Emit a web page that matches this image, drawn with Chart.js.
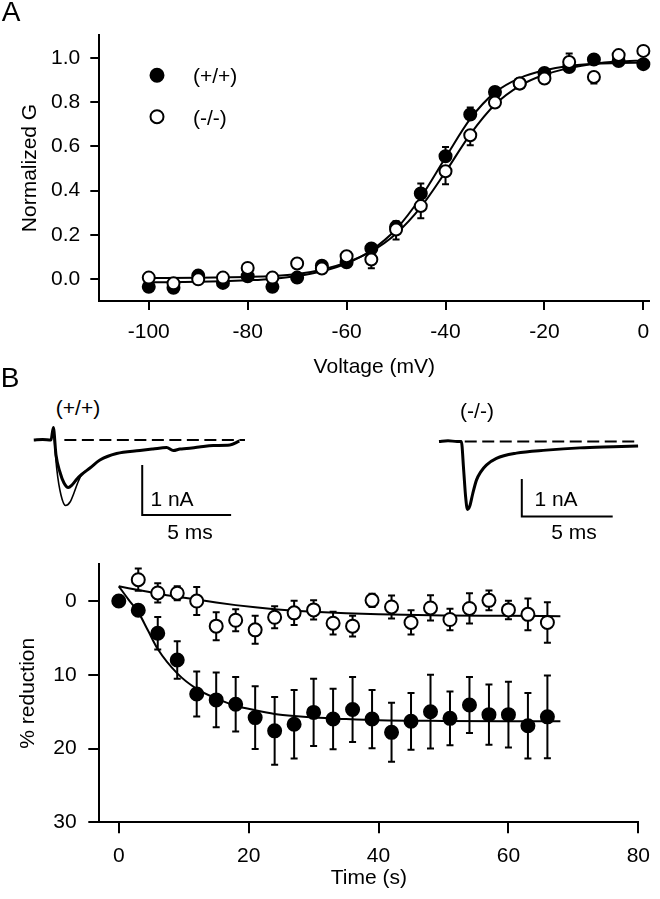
<!DOCTYPE html>
<html>
<head>
<meta charset="utf-8">
<script src="https://cdn.jsdelivr.net/npm/chart.js@4.4.1/dist/chart.umd.min.js"></script>
<style>
  body { margin: 0; background: #fff; }
  #page { position: relative; width: 660px; height: 899px; overflow: hidden; background: #fff; }
  canvas { position: absolute; }
  .lbl {
    position: absolute; white-space: nowrap; line-height: 1;
    font-family: "Liberation Sans", Arial, sans-serif; font-size: 21px; color: #000;
    transform: translate(-50%, -50%);
  }
  .left { transform: translate(0, -50%); }
  .panel { font-size: 28px; }
</style>
</head>
<body>
<div id="page">
  <canvas id="chartA" width="660" height="380" style="left:0;top:0"></canvas>
  <canvas id="traceWT" width="240" height="100" style="left:16px;top:420px"></canvas>
  <canvas id="traceKO" width="234" height="150" style="left:421px;top:404px"></canvas>
  <canvas id="chartB" width="660" height="359" style="left:0;top:540px"></canvas>

  <div class="lbl panel" style="left:11px;top:12px">A</div>
  <div class="lbl panel" style="left:10px;top:378px">B</div>
  <div class="lbl left" style="left:193px;top:75px">(+/+)</div>
  <div class="lbl left" style="left:193px;top:117px">(-/-)</div>
  <div class="lbl" style="left:78px;top:407px">(+/+)</div>
  <div class="lbl" style="left:477px;top:410px">(-/-)</div>
  <div class="lbl" style="left:172px;top:498px">1 nA</div>
  <div class="lbl" style="left:190px;top:531px">5 ms</div>
  <div class="lbl" style="left:556px;top:498px">1 nA</div>
  <div class="lbl" style="left:574px;top:531px">5 ms</div>
</div>
<script>
// ---- panel A : normalized conductance vs voltage ----
const voltages = [-100, -95, -90, -85, -80, -75, -70, -65, -60, -55, -50, -45, -40, -35, -30, -25, -20, -15, -10, -5, 0];
const gWT = [-0.036, -0.04, 0.015, -0.018, 0.012, -0.036, 0.006, 0.06, 0.075, 0.138, 0.236, 0.387, 0.556, 0.745, 0.847, 0.885, 0.933, 0.96, 0.994, 0.987, 0.973];
const gKO = [0.006, -0.02, -0.002, 0.006, 0.05, 0.006, 0.07, 0.047, 0.103, 0.088, 0.224, 0.33, 0.488, 0.651, 0.799, 0.885, 0.908, 0.983, 0.915, 1.014, 1.033];
// signed error bars: + drawn upward, - drawn downward
const errWT_A = [0.01, 0.01, 0.01, 0.01, 0.01, 0.01, 0.02, 0.01, 0.01, 0.02, 0.025, 0.045, 0.042, 0.032, 0.02, 0.01, 0.01, 0.01, 0.01, 0.01, 0.01];
const errKO_A = [-0.01, -0.01, -0.01, -0.01, -0.01, -0.01, -0.01, -0.01, -0.01, -0.04, -0.045, -0.055, -0.059, -0.045, -0.02, -0.01, -0.01, 0.038, -0.03, -0.01, -0.01];
// Boltzmann fits
const fitV = [-100, -90, -80, -75, -70, -65, -60, -55, -50, -45, -40, -35, -30, -25, -20, -15, -10, -5, 0];
const fitWT_A = [-0.015, -0.013, -0.006, 0.0, 0.013, 0.035, 0.07, 0.13, 0.225, 0.37, 0.55, 0.725, 0.845, 0.91, 0.945, 0.965, 0.975, 0.978, 0.98];
const fitKO_A = [0.004, 0.005, 0.009, 0.013, 0.022, 0.042, 0.075, 0.125, 0.205, 0.325, 0.485, 0.655, 0.79, 0.875, 0.925, 0.955, 0.975, 0.985, 0.99];
const xTicksA = [-100, -80, -60, -40, -20, 0];
const yTicksA = [0, 0.2, 0.4, 0.6, 0.8, 1.0];

// ---- panel B top : example currents (ms, nA) ----
const traceWT_t = [0, 0.5, 0.97, 1.10, 1.25, 1.47, 1.70, 1.94, 2.15, 2.43, 2.69, 3.16, 3.72, 4.66, 5.97, 6.7, 7.47, 7.85, 8.22, 8.6, 9.3, 10.1, 11.03, 11.56];
const traceWT_i = [0, 0.01, 0, 0.25, -0.3, -0.64, -0.86, -0.95, -0.9, -0.78, -0.69, -0.56, -0.40, -0.27, -0.21, -0.18, -0.15, -0.21, -0.18, -0.17, -0.14, -0.11, -0.1, -0.02];
const ctrlWT_t = [1.10, 1.30, 1.53, 1.79, 2.04, 2.26, 2.49, 2.69, 3.0];
const ctrlWT_i = [0.25, -0.6, -1.1, -1.31, -1.24, -1.06, -0.84, -0.69, -0.6];
const traceKO_t = [0, 0.5, 1.0, 1.24, 1.37, 1.48, 1.58, 1.71, 1.87, 2.08, 2.32, 2.63, 3.19, 4.3, 5.97, 7.82, 9.67, 11.06];
const traceKO_i = [0, 0.02, 0, 0, -0.76, -1.48, -1.81, -1.72, -1.4, -1.03, -0.81, -0.63, -0.45, -0.31, -0.23, -0.17, -0.14, -0.12];
const dashWT_t = [1.72, 11.88], dashWT_i = [0, 0];
const dashKO_t = [1.43, 11.06], dashKO_i = [0, 0];
const barWT_t = [6.1, 6.1, 11.1], barWT_i = [-0.5, -1.5, -1.5];
const barKO_t = [4.6, 4.6, 9.65], barKO_i = [-1, -2, -2];

// ---- panel B bottom : % reduction vs time ----
const timesB = [0, 3, 6, 9, 12, 15, 18, 21, 24, 27, 30, 33, 36, 39, 42, 45, 48, 51, 54, 57, 60, 63, 66];
const redWT = [0.0, 1.24, 4.36, 8.0, 12.6, 13.4, 14.0, 15.8, 17.6, 16.7, 15.1, 16.0, 14.7, 16.0, 17.8, 16.3, 15.0, 15.9, 14.1, 15.4, 15.4, 16.9, 15.7];
const errWT_B = [0, 0.3, 2.2, 2.55, 3.05, 3.7, 3.7, 4.25, 4.6, 4.65, 4.55, 4.1, 4.4, 3.95, 4.0, 3.85, 5.0, 3.65, 3.8, 4.1, 4.45, 4.45, 5.6];
const redKO = [null, -2.9, -1.1, -1.07, 0.0, 3.4, 2.6, 3.9, 2.2, 1.6, 1.2, 3.0, 3.4, -0.1, 0.8, 2.9, 0.93, 2.5, 1.0, -0.1, 1.2, 1.8, 2.9];
const errKO_B = [0, 1.5, 1.3, 0.95, 1.9, 1.9, 1.5, 1.9, 1.5, 1.65, 1.3, 1.55, 1.4, 0.9, 1.55, 1.65, 1.72, 1.45, 2.05, 1.35, 1.25, 2.15, 2.75];
const fitTimes = [0, 1.5, 3, 4.5, 6, 9, 12, 15, 18, 21, 24, 27, 30, 35, 40, 50, 60, 68];
const fitWT_B = [-2.0, -0.2, 1.5, 4.0, 6.5, 9.8, 11.9, 13.2, 14.2, 14.8, 15.3, 15.6, 15.8, 16.0, 16.15, 16.25, 16.3, 16.3];
const fitKO_B = [-2.0, -1.75, -1.5, -1.25, -1.0, -0.6, -0.2, 0.2, 0.55, 0.85, 1.1, 1.3, 1.45, 1.65, 1.8, 1.95, 2.0, 2.05];
const xTicksB = [0, 20, 40, 60, 80];
const yTicksB = [0, 10, 20, 30];

Chart.defaults.font.family = '"Liberation Sans", Arial, sans-serif';
Chart.defaults.color = "#000";
Chart.defaults.animation = false;

const pts = (xs, ys) => xs.map((x, i) => ({ x, y: ys[i] }));

// error bars drawn under the markers
const errorBarPlugin = {
  id: "errorBars",
  beforeDatasetsDraw(chart) {
    const ctx = chart.ctx;
    const yScale = chart.scales.y;
    ctx.save();
    ctx.strokeStyle = "#000";
    ctx.lineWidth = 2;
    chart.data.datasets.forEach((ds, i) => {
      if (!ds.errorBars) return;
      chart.getDatasetMeta(i).data.forEach((pt, j) => {
        const v = ds.data[j].y, e = ds.errorBars[j];
        if (v == null || !e) return;
        const ends = ds.errorMode === "both" ? [v - e, v + e] : [v + e];
        ends.forEach(end => {
          const py = yScale.getPixelForValue(end);
          ctx.beginPath();
          ctx.moveTo(pt.x, pt.y); ctx.lineTo(pt.x, py);
          ctx.moveTo(pt.x - 3.5, py); ctx.lineTo(pt.x + 3.5, py);
          ctx.stroke();
        });
      });
    });
    ctx.restore();
  }
};

// legend symbols of panel A (labels are html text)
const legendSymbols = {
  id: "legendSymbols",
  afterDatasetsDraw(chart) {
    const ctx = chart.ctx;
    ctx.save();
    ctx.lineWidth = 2;
    ctx.strokeStyle = "#000";
    ctx.beginPath(); ctx.arc(157, 75.3, 6.5, 0, Math.PI * 2);
    ctx.fillStyle = "#000"; ctx.fill(); ctx.stroke();
    ctx.beginPath(); ctx.arc(157, 116.7, 6.5, 0, Math.PI * 2);
    ctx.fillStyle = "#fff"; ctx.fill(); ctx.stroke();
    ctx.restore();
  }
};

function axis(opts) {
  return {
    type: "linear",
    min: opts.min, max: opts.max, reverse: !!opts.reverse,
    afterBuildTicks: s => { s.ticks = opts.ticks.map(v => ({ value: v })); },
    afterFit: s => { if (opts.width) s.width = opts.width; if (opts.height) s.height = opts.height; },
    grid: { drawOnChartArea: false, drawTicks: true, tickLength: opts.tickLen, color: "#000", lineWidth: 2 },
    border: { display: true, color: "#000", width: 2 },
    ticks: { font: { size: 21 }, color: "#000", padding: opts.pad, maxRotation: 0, autoSkip: false, callback: opts.fmt },
    title: { display: true, text: opts.title, font: { size: 21 }, color: "#000", padding: opts.titlePad }
  };
}

const markerDs = (data, filled, r, errs, mode) => ({
  data, showLine: false, clip: false,
  pointRadius: r, pointHoverRadius: r, pointBorderWidth: 2,
  pointBackgroundColor: filled ? "#000" : "#fff", pointBorderColor: "#000",
  errorBars: errs, errorMode: mode
});
const curveDs = (data, w) => ({
  data, showLine: true, pointRadius: 0, borderColor: "#000", borderWidth: w,
  cubicInterpolationMode: "monotone", fill: false, clip: false
});

// panel A
new Chart(document.getElementById("chartA"), {
  type: "line",
  data: {
    datasets: [
      markerDs(pts(voltages, gKO), false, 6, errKO_A, "signed"),
      markerDs(pts(voltages, gWT), true, 6, errWT_A, "signed"),
      curveDs(pts(fitV, fitWT_A), 2),
      curveDs(pts(fitV, fitKO_A), 2)
    ]
  },
  options: {
    responsive: false, devicePixelRatio: 1,
    layout: { padding: { left: 0, top: 35, right: 10.7, bottom: 0 } },
    plugins: { legend: { display: false }, tooltip: { enabled: false } },
    scales: {
      x: axis({ min: -110, max: 1.2, ticks: xTicksA, tickLen: 9, pad: 10, height: 79,
                title: "Voltage (mV)", titlePad: { top: 0, bottom: 0 }, fmt: v => String(v) }),
      y: axis({ min: -0.1, max: 1.105, ticks: yTicksA, tickLen: 9, pad: 10, width: 99.3,
                title: "Normalized G", titlePad: { top: 18, bottom: 0 }, fmt: v => v.toFixed(1) })
    }
  },
  plugins: [errorBarPlugin, legendSymbols]
});

// panel B example traces
function traceChart(id, xr, yr, sets) {
  new Chart(document.getElementById(id), {
    type: "line",
    data: { datasets: sets },
    options: {
      responsive: false, devicePixelRatio: 1,
      layout: { padding: 0 },
      plugins: { legend: { display: false }, tooltip: { enabled: false } },
      scales: {
        x: { type: "linear", display: false, min: xr[0], max: xr[1] },
        y: { type: "linear", display: false, min: yr[0], max: yr[1] }
      }
    }
  });
}
const dashed = (data) => ({ data, pointRadius: 0, borderColor: "#000", borderWidth: 2, borderDash: [12, 5.5], clip: false });
const bar = (data) => ({ data, pointRadius: 0, borderColor: "#000", borderWidth: 2, tension: 0, clip: false });

traceChart("traceWT", [-1, 12.5], [-1.6, 0.4], [
  curveDs(pts(traceWT_t, traceWT_i), 3),
  curveDs(pts(ctrlWT_t, ctrlWT_i), 1.6),
  dashed(pts(dashWT_t, dashWT_i)),
  bar(pts(barWT_t, barWT_i))
]);
traceChart("traceKO", [-1, 12], [-3, 1], [
  curveDs(pts(traceKO_t, traceKO_i), 3),
  dashed(pts(dashKO_t, dashKO_i)),
  bar(pts(barKO_t, barKO_i))
]);

// panel B time course
new Chart(document.getElementById("chartB"), {
  type: "line",
  data: {
    datasets: [
      markerDs(pts(timesB, redKO), false, 6.5, errKO_B, "both"),
      markerDs(pts(timesB, redWT), true, 6.5, errWT_B, "both"),
      curveDs(pts(fitTimes, fitWT_B), 2),
      curveDs(pts(fitTimes, fitKO_B), 2)
    ]
  },
  options: {
    responsive: false, devicePixelRatio: 1,
    layout: { padding: { left: 0, top: 19.3, right: 10.7, bottom: 0 } },
    plugins: { legend: { display: false }, tooltip: { enabled: false } },
    scales: {
      x: axis({ min: -3, max: 80, ticks: xTicksB, tickLen: 11, pad: 10, height: 76.7,
                title: "Time (s)", titlePad: { top: 0, bottom: 8 }, fmt: v => String(v) }),
      y: axis({ min: -5, max: 30, reverse: true, ticks: yTicksB, tickLen: 11, pad: 11.6, width: 99.3,
                title: "% reduction", titlePad: { top: 15.7, bottom: 0 }, fmt: v => String(v) })
    }
  },
  plugins: [errorBarPlugin]
});
</script>
</body>
</html>
